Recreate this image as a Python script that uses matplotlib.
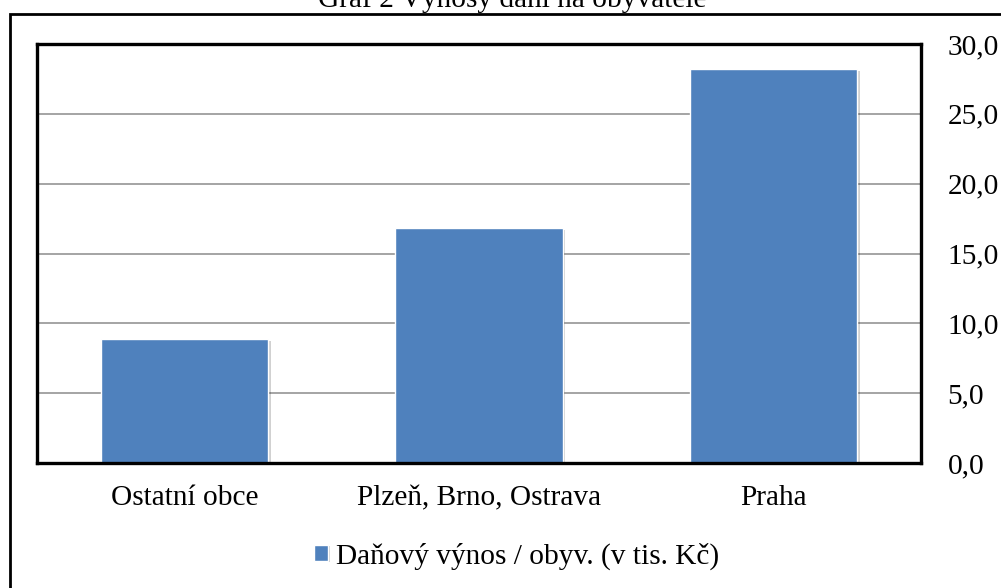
import matplotlib
matplotlib.use("Agg")
import matplotlib.pyplot as plt
from matplotlib.patches import Rectangle
from matplotlib.ticker import FuncFormatter
import matplotlib.patheffects as pe

categories = ["Ostatní obce", "Plzeň, Brno, Ostrava", "Praha"]
values = [8.85, 16.8, 28.2]
series_name = "Daňový výnos / obyv. (v tis. Kč)"
title = "Graf 2 Výnosy daní na obyvatele"
yticks = [0, 5, 10, 15, 20, 25, 30]

plt.rcParams['font.family'] = ['Liberation Serif', 'DejaVu Serif']
FS = 21.2

fig = plt.figure(figsize=(10.01, 5.88), dpi=100)
W, H = 1001, 588

# outer frame
fig.patches.append(Rectangle((10 / W, -0.1), 1.2, 1 - 14 / H + 0.1, transform=fig.transFigure,
                             fill=False, edgecolor='black', linewidth=2.0, clip_on=False))

fig.text(512 / W, 1 - 7 / H, title, ha='center', va='baseline', fontsize=FS)

ax = fig.add_axes([37 / W, 1 - 463 / H, (921 - 37) / W, (463 - 44) / H])
x = list(range(len(categories)))
bars = ax.bar(x, values, width=0.567, color='#4F81BD', edgecolor='white', linewidth=1.0,
              zorder=3, label=series_name)
for b in bars:
    b.set_path_effects([pe.SimplePatchShadow(offset=(2, -1), shadow_rgbFace='#000000', alpha=0.18),
                        pe.Normal()])

ax.set_xlim(-0.5, len(categories) - 0.5)
ax.set_ylim(0, 30)
ax.set_yticks(yticks)
ax.yaxis.set_major_formatter(FuncFormatter(lambda v, p: f"{v:.1f}".replace('.', ',')))
ax.yaxis.tick_right()
ax.tick_params(axis='y', length=0, pad=19, labelsize=FS)
ax.set_xticks(x)
ax.set_xticklabels(categories)
ax.tick_params(axis='x', length=0, pad=16, labelsize=FS)
ax.grid(axis='y', color='#8c8c8c', linewidth=1.1, zorder=0)
for s in ax.spines.values():
    s.set_linewidth(2.4)
    s.set_color('black')
    s.set_zorder(4)

handles, labels = ax.get_legend_handles_labels()
fig.legend(handles, labels, loc='center', bbox_to_anchor=(517 / W, 1 - 556 / H),
           frameon=False, fontsize=FS, handlelength=0.45, handleheight=0.45,
           handletextpad=0.3)

fig.savefig("out.png", dpi=100)
